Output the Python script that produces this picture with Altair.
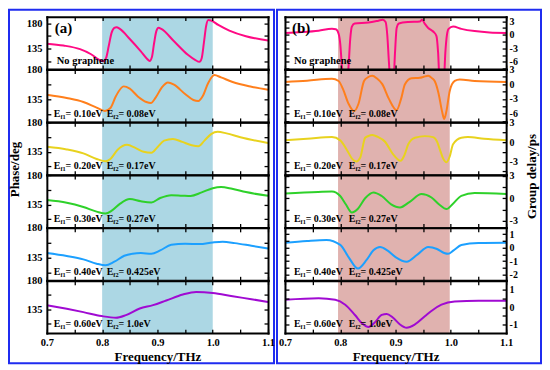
import json
import altair as alt
import pandas as pd

FONT = "Liberation Serif"
W = 222
H = 316 / 6

# ---------------- data ----------------
X_DOMAIN = [0.7, 1.1]
X_TICKS = [0.7, 0.75, 0.8, 0.85, 0.9, 0.95, 1.0, 1.05, 1.1]
X_LABELS = [0.7, 0.8, 0.9, 1.0, 1.1]

COLORS = ["#ff0a84", "#ff7f1c", "#e8d21e", "#2ed12a", "#1ca0ff", "#a00ad2"]
SHADE_A = [0.8, 1.0]
SHADE_B = [0.796, 0.998]
SHADE_A_COLOR = "#acd7e4"
SHADE_B_COLOR = "#e0b2af"
BORDER_COLOR = "#1f2cf0"

# panel (a): phase (deg)
A1_F = [0.700, 0.730, 0.760, 0.780, 0.795, 0.802, 0.807, 0.812, 0.817, 0.822, 0.826, 0.832, 0.850, 0.870,
        0.881, 0.886, 0.890, 0.894, 0.898, 0.902, 0.907, 0.930, 0.955, 0.968, 0.976, 0.980, 0.984, 0.988,
        0.992, 0.997, 1.010, 1.030, 1.060, 1.100]
A1_V = [143.8, 140.5, 134, 125, 115, 112.5, 118, 140, 163, 172, 173, 170, 152, 130,
        117, 113, 120, 145, 166, 172, 170, 148, 124, 115, 111.5, 118, 145, 175,
        186, 185, 177, 167, 157, 149.6]
A2_F = [0.700, 0.736, 0.766, 0.790, 0.805, 0.815, 0.825, 0.839, 0.850, 0.865, 0.880, 0.888, 0.897, 0.908,
        0.919, 0.930, 0.950, 0.965, 0.974, 0.982, 0.992, 1.003, 1.015, 1.036, 1.070, 1.100]
A2_V = [142, 137, 131, 122.5, 117.5, 122, 140, 154.5, 151, 139, 131, 129.5, 138, 153,
        160.5, 157, 143, 134, 132.5, 140, 160, 171.5, 168, 161, 154, 149.5]
A3_F = [0.700, 0.736, 0.766, 0.790, 0.806, 0.815, 0.828, 0.845, 0.860, 0.875, 0.889, 0.900, 0.912, 0.928,
        0.945, 0.962, 0.974, 0.985, 0.997, 1.009, 1.025, 1.050, 1.100]
A3_V = [142.5, 138.5, 132.5, 124, 120.5, 124, 138, 145.5, 141, 135, 133.5, 142, 152, 154.5,
        150, 145, 143.5, 152, 162, 165.5, 163, 157, 148.5]
A4_F = [0.700, 0.736, 0.766, 0.790, 0.806, 0.818, 0.832, 0.850, 0.870, 0.889, 0.905, 0.925, 0.945, 0.960,
        0.980, 1.000, 1.015, 1.035, 1.060, 1.100]
A4_V = [141.8, 137.8, 131.3, 124.2, 121.2, 126, 136, 143.3, 140, 138.3, 145, 149.3, 148.5, 148,
        153.5, 160, 161.8, 159, 154, 148.3]
A5_F = [0.700, 0.736, 0.766, 0.790, 0.806, 0.822, 0.840, 0.855, 0.870, 0.889, 0.905, 0.925, 0.950, 0.976,
        1.000, 1.018, 1.040, 1.070, 1.100]
A5_V = [142, 137.5, 132.5, 126, 123.6, 129, 138, 141, 142, 141, 146, 154.5, 156, 155.5,
        158, 159, 157, 153, 149]
A6_F = [0.700, 0.736, 0.766, 0.799, 0.825, 0.843, 0.868, 0.892, 0.916, 0.946, 0.970, 1.000, 1.036, 1.070, 1.100]
A6_V = [141.7, 136, 130.8, 124.6, 122, 126.2, 136.5, 141.7, 149, 158.3, 162.3, 160.8, 155.6, 151, 146.8]

# panel (b): group delay (ps)
B1_F = [0.700, 0.731, 0.761, 0.785, 0.792, 0.797, 0.800, 0.803, 0.806, 0.812, 0.815, 0.818, 0.821, 0.826,
        0.851, 0.869, 0.877, 0.882, 0.885, 0.888, 0.891, 0.896, 0.899, 0.902, 0.906, 0.923, 0.944, 0.948,
        0.953, 0.959, 0.965, 0.969, 0.974, 0.977, 0.980, 0.987, 0.990, 0.993, 0.996, 1.004, 1.019, 1.043,
        1.070, 1.100]
B1_V = [0.4, 0.6, 0.9, 1.3, 1.2, 0.2, -2, -7, -11, -11, -7, -1, 1.8, 2.5,
        2.7, 3.1, 3.3, 2.8, 0, -6, -11, -11, -4, 1.5, 2.5, 2.8, 2.9, 3.3,
        2.4, 1.5, 1.0, 0.6, -0.3, -4, -11, -11, -4, 0, 1.3, 1.8, 1.3, 0.8,
        0.5, 0.4]
B2_F = [0.700, 0.740, 0.785, 0.797, 0.805, 0.815, 0.825, 0.833, 0.843, 0.850, 0.858, 0.866, 0.876, 0.888,
        0.902, 0.910, 0.917, 0.929, 0.944, 0.951, 0.959, 0.966, 0.971, 0.978, 0.984, 0.988, 0.992, 0.998,
        1.007, 1.016, 1.043, 1.100]
B2_V = [0.45, 0.7, 1.1, 0.65, -1, -4, -5.5, -4, 0.65, 1.4, 1.7, 1.2, 0.0, -3,
        -5.3, -3, 0, 1.2, 1.3, 1.5, 1.7, 1.2, 0.6, -2, -5.5, -7.1, -5.5, -1.4,
        0.65, 0.95, 0.65, 0.45]
B3_F = [0.700, 0.740, 0.785, 0.800, 0.812, 0.822, 0.829, 0.836, 0.845, 0.850, 0.858, 0.868, 0.881, 0.895,
        0.909, 0.916, 0.923, 0.935, 0.953, 0.968, 0.975, 0.980, 0.986, 0.992, 0.998, 1.004, 1.019, 1.031,
        1.060, 1.100]
B3_V = [0.3, 0.5, 0.77, 0.27, -1.2, -2.6, -2.97, -2.4, 0.67, 0.9, 1.08, 0.8, 0.06, -1.8,
        -2.86, -2, -0.33, 0.67, 0.92, 0.77, 0.1, -1.1, -2.5, -3.1, -2.2, -0.33, 0.67, 0.77,
        0.5, 0.3]
B4_F = [0.700, 0.760, 0.785, 0.800, 0.810, 0.821, 0.832, 0.845, 0.860, 0.875, 0.892, 0.908, 0.925, 0.947,
        0.965, 0.980, 0.992, 1.003, 1.019, 1.043, 1.100]
B4_V = [0.64, 0.85, 0.91, 0.3, -0.8, -1.89, -1.4, 0.0, 0.78, 0.3, -0.8, -1.22, -0.5, 0.56,
        0.1, -0.9, -1.44, -0.8, 0.33, 0.7, 0.56]
B5_F = [0.700, 0.740, 0.775, 0.800, 0.815, 0.832, 0.848, 0.860, 0.872, 0.885, 0.900, 0.920, 0.940, 0.959,
        0.975, 0.988, 0.995, 1.005, 1.019, 1.050, 1.100]
B5_V = [0.37, 0.5, 0.57, 0.2, -0.7, -1.56, -0.9, -0.2, 0.05, -0.2, -0.7, -1.05, -0.5, 0.05,
        -0.1, -0.4, -0.46, -0.2, 0.2, 0.35, 0.37]
B6_F = [0.700, 0.761, 0.791, 0.809, 0.827, 0.840, 0.851, 0.862, 0.875, 0.884, 0.895, 0.908, 0.920, 0.935,
        0.953, 0.968, 0.983, 1.007, 1.050, 1.100]
B6_V = [0.43, 0.52, 0.43, 0.14, -0.47, -0.95, -1.15, -0.9, -0.45, -0.39, -0.6, -1.0, -1.19, -1.0,
        -0.53, -0.15, 0.14, 0.33, 0.37, 0.37]

PHASE_CURVES = [(A1_F, A1_V), (A2_F, A2_V), (A3_F, A3_V), (A4_F, A4_V), (A5_F, A5_V), (A6_F, A6_V)]
DELAY_CURVES = [(B1_F, B1_V), (B2_F, B2_V), (B3_F, B3_V), (B4_F, B4_V), (B5_F, B5_V), (B6_F, B6_V)]

PHASE_DOMAINS = [[98.6, 191.8], [101, 180], [100, 180], [100, 180], [101, 180], [98, 180]]
PHASE_TICKS = [112.5, 135, 157.5, 180]
PHASE_LABELS = [135, 180]

DELAY_DOMAINS = [[-7.6, 4.0], [-7.7, 3.0], [-5.0, 3.05], [-3.9, 3.1], [-2.43, 1.47], [-1.5, 1.53]]
DELAY_TICKS = [
    [-7.5, -6, -4.5, -3, -1.5, 0, 1.5, 3],
    [-7.5, -6, -4.5, -3, -1.5, 0, 1.5, 3],
    [-4.5, -3, -1.5, 0, 1.5, 3],
    [-3, -1.5, 0, 1.5, 3],
    [-2, -1.5, -1, -0.5, 0, 0.5, 1],
    [-1, -0.5, 0, 0.5, 1],
]
DELAY_LABELS = [[3, 0, -3, -6], [3, 0, -3, -6], [3, 0, -3], [3, 0, -3], [1, 0, -1, -2], [1, 0, -1]]

EF1 = ["0.10", "0.20", "0.30", "0.40", "0.60"]
EF2 = ["0.08", "0.17", "0.27", "0.425", "1.0"]
LABEL_Y = [45, 44.5, 43.5, 44.5, 44.5, 43.5]

ONE = pd.DataFrame({"k": [0]})
NEG_TICK = {"expr": "-4"}


def label_expr(vals, fmt=None):
    arr = json.dumps(vals)
    shown = "format(datum.value, '%s')" % fmt if fmt else "toString(datum.value)"
    return "indexof(%s, datum.value) >= 0 ? %s : ''" % (arr, shown)


def tick_axis(orient, values, labels=None, fmt=None, pad=9, size=10.5, **extra):
    kw = dict(orient=orient, values=values, grid=False, domain=True, domainColor="black",
              domainWidth=2, domainCap="square", ticks=True, tickColor="black", tickWidth=1.3,
              tickSize=NEG_TICK, zindex=1, labelOverlap=False)
    if labels is not None:
        kw.update(labels=True, labelExpr=label_expr(labels, fmt), labelFont=FONT,
                  labelFontWeight="bold", labelFontSize=size, labelColor="black",
                  labelPadding=pad, labelFlush=False)
    else:
        kw.update(labels=False)
    kw.update(extra)
    if "title" not in kw:
        kw["title"] = None
    return alt.Axis(**kw)


def text_piece(txt, px, py, size):
    return alt.Chart(ONE).mark_text(
        text=txt, align="left", baseline="middle", font=FONT, fontWeight="bold",
        fontSize=size, color="black"
    ).encode(x=alt.value(px), y=alt.value(py))


def energy_label(i, x1, x2):
    y = LABEL_Y[i + 1]
    parts = []
    for x0, sub, val in ((x1, "f1", EF1[i]), (x2, "f2", EF2[i])):
        parts.append(text_piece("E", x0, y, 10))
        parts.append(text_piece(sub, x0 + 6.7, y + 3, 6.3))
        parts.append(text_piece("= " + val + "eV", x0 + 11.8, y, 10))
    return parts


def panel_cell(panel, i):
    is_a = panel == "a"
    fs, vs = (PHASE_CURVES if is_a else DELAY_CURVES)[i]
    df = pd.DataFrame({"f": fs, "v": vs})
    ydom = (PHASE_DOMAINS if is_a else DELAY_DOMAINS)[i]
    yticks = PHASE_TICKS if is_a else DELAY_TICKS[i]
    ylabels = PHASE_LABELS if is_a else DELAY_LABELS[i]
    shade = SHADE_A if is_a else SHADE_B
    shade_color = SHADE_A_COLOR if is_a else SHADE_B_COLOR
    last = i == 5

    xscale = alt.Scale(domain=X_DOMAIN, nice=False, zero=False)
    yscale = alt.Scale(domain=ydom, nice=False, zero=False)

    if last:
        xaxis = tick_axis("bottom", X_TICKS, X_LABELS, ".1f", pad=8.5,
                          title="Frequency/THz", titleFont=FONT, titleFontWeight="bold",
                          titleFontSize=13, titleColor="black", titleX=W / 2, titleY=23,
                          titleAlign="center", titleBaseline="middle")
    else:
        xaxis = tick_axis("bottom", X_TICKS)
    xaxis_top = tick_axis("top", X_TICKS)

    title_kw = {}
    if i == 3:
        title_kw = dict(titleFont=FONT, titleFontWeight="bold", titleFontSize=13, titleColor="black",
                        titleAngle=270, titleAlign="center", titleBaseline="middle")
    if is_a:
        if i == 3:
            title_kw.update(title="Phase/deg", titleX=-32, titleY=-6)
        yaxis_main = tick_axis("left", yticks, ylabels, pad=9, **title_kw)
        yaxis_mirror = tick_axis("right", yticks)
    else:
        if i == 3:
            title_kw.update(title="Group delay/ps", titleX=25, titleY=1)
        yaxis_main = tick_axis("right", yticks, ylabels, pad=7, size=10, **title_kw)
        yaxis_mirror = tick_axis("left", yticks)

    shade_layer = alt.Chart(pd.DataFrame({"x1": [shade[0]], "x2": [shade[1]]})).mark_rect(
        color=shade_color, opacity=1
    ).encode(
        x=alt.X("x1:Q", scale=xscale, axis=None),
        x2="x2:Q",
        y=alt.value(0),
        y2=alt.value("height"),
    )
    line = alt.Chart(df).mark_line(
        color=COLORS[i], strokeWidth=2, interpolate="monotone", clip=True
    ).encode(
        x=alt.X("f:Q", scale=xscale, axis=xaxis),
        y=alt.Y("v:Q", scale=yscale, axis=yaxis_main),
        order="f:Q",
    )
    mirror = alt.Chart(df).mark_line(opacity=0).encode(
        x=alt.X("f:Q", scale=xscale, axis=xaxis_top),
        y=alt.Y("v:Q", scale=yscale, axis=yaxis_mirror),
    )

    layers = [shade_layer, line, mirror]
    if i == 0:
        if is_a:
            layers.append(text_piece("(a)", 8, 11, 15))
            layers.append(text_piece("No graphene", 10, LABEL_Y[0], 10.5))
            border = alt.Chart(ONE).mark_rect(fillOpacity=0, stroke=BORDER_COLOR, strokeWidth=2).encode(
                x=alt.value(-38), x2=alt.value(228), y=alt.value(-7), y2=alt.value(348))
        else:
            layers.append(text_piece("(b)", 7, 11, 15))
            layers.append(text_piece("No graphene", 9, LABEL_Y[0], 10.5))
            border = alt.Chart(ONE).mark_rect(fillOpacity=0, stroke=BORDER_COLOR, strokeWidth=2).encode(
                x=alt.value(-8), x2=alt.value(257), y=alt.value(-7), y2=alt.value(348))
        layers.append(border)
    else:
        if is_a:
            layers.extend(energy_label(i - 1, 7, 60))
        else:
            layers.extend(energy_label(i - 1, 9, 64))

    return alt.layer(*layers).resolve_axis(x="independent", y="independent").properties(
        width=W, height=H
    )


cells = []
for i in range(6):
    cells.append(panel_cell("a", i))
    cells.append(panel_cell("b", i))

chart = alt.concat(
    *cells, columns=2, spacing={"row": 0, "column": 17}, bounds="flush"
).properties(padding=0).configure_view(stroke=None)

chart.save("out.html", embed_options={"renderer": "svg", "actions": False})
